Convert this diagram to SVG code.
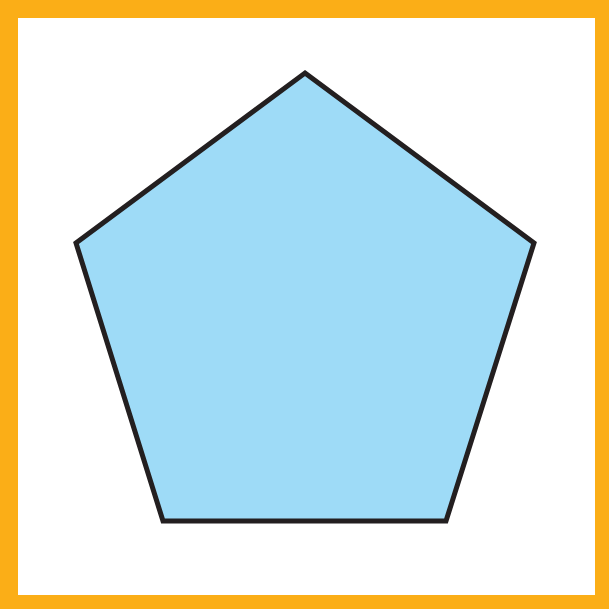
<svg xmlns="http://www.w3.org/2000/svg" width="609" height="609" viewBox="0 0 609 609">
<style>.frame{fill:#FBAE17}.inner{fill:#FFFFFF}.pent{fill:#9EDBF7;stroke:#231F20;stroke-width:5;stroke-linejoin:miter}</style>
<rect class="frame" x="0" y="0" width="609" height="609"/>
<rect class="inner" x="18" y="18" width="577" height="577"/>
<g id="pentagon"><polygon class="pent" points="305,73 534,243 446,521 163,521 76,243"/></g>
</svg>
